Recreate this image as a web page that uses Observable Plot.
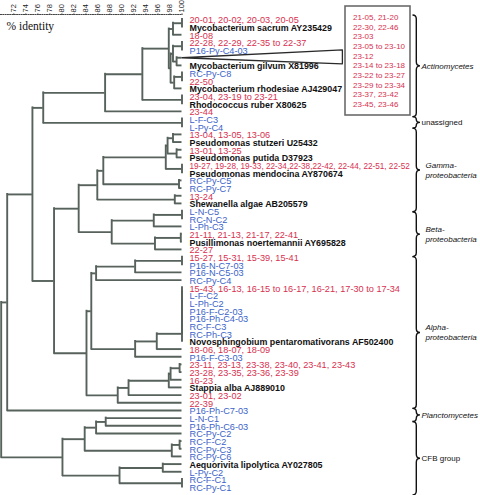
<!DOCTYPE html>
<html><head><meta charset="utf-8">
<script src="https://cdn.jsdelivr.net/npm/d3@7"></script>
<script src="https://cdn.jsdelivr.net/npm/@observablehq/plot@0.6"></script>
<style>
html,body{margin:0;padding:0;background:#fff;}
#chart{width:480px;height:495px;overflow:hidden}
svg{display:block}
</style></head><body><div id="chart"></div>
<script>
// ---------- DATA ----------
const axisTicks = [72, 74, 76, 78, 80, 82, 84, 86, 88, 90, 92, 94, 96, 98, 100];

// leaves, top to bottom ("i" isolate, "c" clone, "r" reference strain, "w" collapsed clade)
const leafLabels = [
  "20-01, 20-02, 20-03, 20-05", "Mycobacterium sacrum AY235429", "18-08",
  "22-28, 22-29, 22-35 to 22-37", "P16-Py-C4-03", "",
  "Mycobacterium gilvum X81996", "RC-Py-C8", "22-50", "Mycobacterium rhodesiae AJ429047",
  "23-04, 23-19 to 23-21", "Rhodococcus ruber X80625", "23-44",
  "L-F-C3", "L-Py-C4",
  "13-04, 13-05, 13-06", "Pseudomonas stutzeri U25432", "13-01, 13-25", "Pseudomonas putida D37923",
  "19-27, 19-28, 19-33, 22-34,22-38,22-42, 22-44, 22-51, 22-52", "Pseudomonas mendocina AY870674",
  "RC-Py-C5", "RC-Py-C7", "13-24", "Shewanella algae AB205579",
  "L-N-C5", "RC-N-C2", "L-Ph-C3", "21-11, 21-13, 21-17, 22-41", "Pusillimonas noertemannii AY695828", "22-27",
  "15-27, 15-31, 15-39, 15-41", "P16-N-C7-03", "P16-N-C5-03", "RC-Py-C4",
  "15-43, 16-13, 16-15 to 16-17, 16-21, 17-30 to 17-34", "L-F-C2", "L-Ph-C2", "P16-F-C2-03", "P16-Ph-C4-03",
  "RC-F-C3", "RC-Ph-C3", "Novosphingobium pentaromativorans AF502400", "18-06, 18-07, 18-09", "P16-F-C3-03",
  "23-11, 23-13, 23-38, 23-40, 23-41, 23-43", "23-28, 23-35, 23-36, 23-39", "16-23", "Stappia alba AJ889010",
  "23-01, 23-02", "22-39",
  "P16-Ph-C7-03", "L-N-C1", "P16-Ph-C6-03", "RC-Py-C2", "RC-F-C2", "RC-Py-C3", "RC-Py-C6",
  "Aequorivita lipolytica AY027805", "L-Py-C2", "RC-F-C1", "RC-Py-C1"
];
const leafKinds = [
  "i","r","i","i","c","w","r","c","i","r","i","r","i","c","c",
  "i","r","i","r","i","r","c","c","i","r",
  "c","c","c","i","r","i",
  "i","c","c","c","i","c","c","c","c","c","c","r","i","c",
  "i","i","i","r","i","i",
  "c","c","c","c","c","c","c","r","c","c","c"
];

// internal nodes: [name, % identity, children (leaf index or node name)], children before parents
const treeNodes = [
  ["a1",100,[0,1]], ["a2",98.5,["a1",2]],
  ["a3",100,[3,4]], ["a4",99.1,[5,6]], ["a5",98.5,["a3","a4"]],
  ["a6",100,[7,8]], ["a7",98.7,["a6",9]], ["a8",98.1,["a5","a7"]],
  ["a9",97.8,["a2","a8"]], ["a10",100,[10,11]], ["a11",93.4,["a9","a10"]],
  ["a12",87.2,["a11",12]], ["u1",100,[13,14]], ["k",76.9,["a12","u1"]],
  ["g1",98.5,[15,16]], ["g2",99.1,[17,18]], ["g3",97.6,["g1","g2"]],
  ["g4",100,[19,20]], ["g5",97.3,["g3","g4"]], ["g6",99.5,[21,22]],
  ["g7",86.9,["g5","g6"]], ["g8",98.8,[23,24]], ["g9",85.9,["g7","g8"]],
  ["b1",100,[25,26]], ["b2",95.3,["b1",27]], ["b3",99.8,[28,29]], ["b4",95.5,["b3",30]],
  ["b5",88.3,["b2","b4"]], ["t",82.8,["g9","b5"]],
  ["p1",100,[31,32]], ["p2",92.2,["p1",33]], ["p3",85.7,["p2",34]],
  ["z1",100,[35,36]], ["z2",100,["z1",37]], ["z3",100,["z2",38]], ["z4",100,["z3",39]],
  ["z5",100,["z4",40]], ["z6",100,["z5",41]], ["z7",100,["z6",42]],
  ["z8",95.8,["z7",43]], ["z9",92.2,["z8",44]], ["aa",84.9,["p3","z9"]],
  ["s1",99.6,[45,46]], ["s2",98.1,["s1",47]], ["s3",97.8,["s2",48]],
  ["s4",91.1,["s3",49]], ["s5",89.3,["s4",50]], ["ab",84.1,["aa","s5"]],
  ["x",78.7,["t","ab"]], ["h",75.1,["k","x"]], ["ah",70.9,["h",51]],
  ["c1",87.3,[52,53]], ["c2",85.7,["c1",54]], ["c3",99.6,[55,56]], ["c4",98.3,["c3",57]],
  ["c5",83.8,["c2","c4"]], ["c6",96.8,[58,59]], ["c7",100,[60,61]], ["c8",89.6,["c6","c7"]],
  ["c9",80.1,["c5","c8"]], ["root",69.9,["ah","c9"]]
];

// members of the collapsed clade (boxed)
const boxLabels = ["21-05, 21-20", "22-30, 22-46", "23-03", "23-05 to 23-10", "23-12",
  "23-14 to 23-18", "23-22 to 23-27", "23-29 to 23-34", "23-37, 23-42", "23-45, 23-46"];

// taxonomic groups (row spans)
const groupNames = [["Actinomycetes"], ["unassigned"], ["Gamma-","proteobacteria"], ["Beta-","proteobacteria"],
  ["Alpha-","proteobacteria"], ["Planctomycetes"], ["CFB group"]];
const groupFrom = [-0.5, 12.75, 14.25, 25.15, 31.0, 50.8, 52.5];
const groupTo   = [12.75, 14.25, 25.15, 31.0, 50.8, 52.5, 62.1];

// ---------- LAYOUT ----------
const RED = "#d8304f", BLUE = "#3b63c9", LINE = "#56625b";
const yDomain = [0, 61], yRange = [18.9, 486.6];
const yPx = d3.scaleLinear(yDomain, yRange);

const leaves = leafLabels.map((label, row) => ({label, row, kind: leafKinds[row]}));
const byName = new Map();
const yOf = c => typeof c === "number" ? c : byName.get(c).y;
const vOf = c => typeof c === "number" ? 100 : byName.get(c).v;
const vsegs = [], hsegs = [];
for (const [name, v, kids] of treeNodes) {
  const ys = kids.map(yOf);
  byName.set(name, {v, y: (ys[0] + ys[ys.length - 1]) / 2});
  vsegs.push({x: v, y1: Math.min(...ys), y2: Math.max(...ys)});
  kids.forEach(k => hsegs.push({y: yOf(k), x1: v, x2: vOf(k)}));
}
const wedgeRow = leaves.find(d => d.kind === "w").row;
const wedgeEnd = 126.7;
const wedge = [
  {x: 100, y: wedgeRow}, {x: wedgeEnd, y: wedgeRow - 1.03},
  {x: wedgeEnd, y: wedgeRow + 0.79}, {x: 100, y: wedgeRow}
];

function decorations() {
  const g = d3.create("svg:g").attr("text-anchor", "start");
  // box of collapsed clade
  g.append("rect").attr("x", 345).attr("y", 6).attr("width", 65).attr("height", 109)
    .attr("fill", "white").attr("stroke", "#6b6b6b").attr("stroke-width", 1.6);
  boxLabels.forEach((t, i) => {
    g.append("text").attr("x", 353).attr("y", 17.3 + i * 9.63).attr("dy", "0.35em")
      .attr("text-anchor", "start").attr("fill", RED).attr("font-size", 8).text(t);
  });
  // braces
  groupNames.forEach((lines, i) => {
    const y1 = yPx(groupFrom[i]), y2 = yPx(groupTo[i]), ym = (y1 + y2) / 2;
    const x0 = 412.5, xs = 416.3, xt = 420;
    const r = Math.min(4, (y2 - y1) / 4);
    const p = `M${x0},${y1} Q${xs},${y1} ${xs},${y1 + r} L${xs},${ym - r} Q${xs},${ym} ${xt},${ym} ` +
              `Q${xs},${ym} ${xs},${ym + r} L${xs},${y2 - r} Q${xs},${y2} ${x0},${y2}`;
    g.append("path").attr("d", p).attr("fill", "none").attr("stroke", "#111").attr("stroke-width", 1.4);
    const italic = !(lines[0] === "unassigned" || lines[0] === "CFB group");
    lines.forEach((t, j) => {
      g.append("text").attr("x", lines.length > 1 ? 425.5 : 421.5)
        .attr("y", ym + (j - (lines.length - 1) / 2) * 9.6).attr("dy", "0.35em")
        .attr("text-anchor", "start")
        .attr("font-size", 8).attr("font-style", italic ? "italic" : "normal")
        .attr("fill", "#111").text(t);
    });
  });
  return g.node();
}

const labelSize = d => d.label.length > 55 ? 8.2 : 9.2;

const plot = Plot.plot({
  width: 480, height: 495,
  marginTop: 14, marginLeft: 0, marginRight: 298.5, marginBottom: 0,
  style: {fontFamily: "'Liberation Sans', Arial, sans-serif", fontSize: "7.5px", background: "white", color: "#222"},
  x: {domain: [72, 100], range: [13.3, 181.5], axis: "top", ticks: axisTicks, tickRotate: -90,
      tickSize: 1.5, tickPadding: 0.5, tickFormat: d => String(d), label: null},
  y: {domain: yDomain, range: yRange, axis: null},
  marks: [
    Plot.frame({anchor: "top", stroke: "#444", strokeDasharray: "1,1.3"}),
    Plot.text(["% identity"], {frameAnchor: "top-left", dx: 6, dy: 11.5, lineAnchor: "middle",
      textAnchor: "start", fontFamily: "'Liberation Serif', 'Times New Roman', serif", fontSize: 11.5, fill: "#111"}),
    Plot.ruleY(hsegs, {y: "y", x1: "x1", x2: "x2", stroke: LINE, strokeWidth: 1.9}),
    Plot.ruleX(vsegs, {x: "x", y1: "y1", y2: "y2", stroke: LINE, strokeWidth: 1.9, strokeLinecap: "square"}),
    Plot.line(wedge, {x: "x", y: "y", stroke: "#2a2a2a", strokeWidth: 1.3, fill: "none"}),
    Plot.text(leaves.filter(d => d.kind === "i"), {x: () => 100, y: "row", text: "label", dx: 7.5, dy: 1,
      textAnchor: "start", fill: RED, fontSize: labelSize}),
    Plot.text(leaves.filter(d => d.kind === "c"), {x: () => 100, y: "row", text: "label", dx: 7.5, dy: 1,
      textAnchor: "start", fill: BLUE, fontSize: labelSize}),
    Plot.text(leaves.filter(d => d.kind === "r"), {x: () => 100, y: "row", text: "label", dx: 7.5, dy: 1,
      textAnchor: "start", fill: "#111", fontWeight: "bold", fontSize: 8.9, ariaLabel: "ref-labels"}),
    decorations
  ]
});

// reference strains: species in italics, accession upright
d3.select(plot).selectAll('g[aria-label="ref-labels"] text').each(function() {
  const t = this.textContent, i = t.lastIndexOf(" ");
  const sel = d3.select(this);
  sel.text(null);
  sel.append("tspan").attr("font-style", "italic").text(t.slice(0, i));
  sel.append("tspan").text(t.slice(i));
});

document.getElementById("chart").appendChild(plot);
</script>
</body></html>
